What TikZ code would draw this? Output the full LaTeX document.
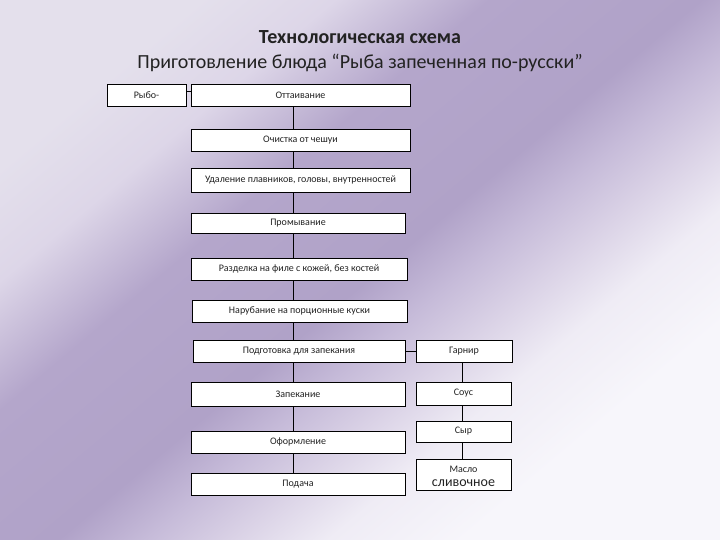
\documentclass[tikz,border=0pt]{standalone}
\usepackage{fontspec}
\setmainfont{Carlito}
\definecolor{bgA}{HTML}{E4E0EC}
\definecolor{bgB}{HTML}{DDD6E8}
\definecolor{bgC}{HTML}{B4A6CB}
\definecolor{bgD}{HTML}{B0A2C8}
\definecolor{bgE}{HTML}{C6BBD9}
\definecolor{bgF}{HTML}{DAD2E6}
\definecolor{bgG}{HTML}{EFECF5}
\definecolor{bgH}{HTML}{F7F6FB}
\definecolor{txt}{HTML}{222222}
\pgfdeclarehorizontalshading{bgshade}{100bp}{%
  color(0bp)=(bgA); color(25bp)=(bgA); color(32bp)=(bgB); color(40bp)=(bgC);
  color(51bp)=(bgD); color(55.5bp)=(bgE); color(60bp)=(bgF);
  color(65bp)=(bgG); color(72bp)=(bgH); color(100bp)=(bgH)}
\begin{document}
\begin{tikzpicture}[x=1pt,y=-1pt,
  box/.style={draw=black, fill=white, line width=0.8pt, inner sep=0pt,
    font=\fontsize{10}{11}\selectfont, text=txt, align=center},
  conn/.style={draw=black, line width=0.8pt}]
\shade[shading=bgshade, shading angle=-50] (0,0) rectangle (720,540);
\useasboundingbox (0,0) rectangle (720,540);
% titles
\node[font=\fontsize{20}{22}\selectfont\bfseries, text=txt] (t1) at (360,37) {Технологическая схема};
\node[font=\fontsize{20}{23}\selectfont, text=txt] (t2) at (360,63) {Приготовление блюда “Рыба запеченная по-русски”};
% left column
\node[box, minimum width=79pt, minimum height=22pt] (ryb) at (146.5,95) {Рыбо-};
\node[box, minimum width=219pt, minimum height=22pt] (ott) at (300.5,95) {Оттаивание};
\node[box, minimum width=219pt, minimum height=22pt] (och) at (300.5,140) {Очистка от чешуи};
\node[box, minimum width=219pt, minimum height=24pt] (ud) at (300.5,180) {Удаление плавников, головы, внутренностей};
\node[box, minimum width=214pt, minimum height=20pt] (prom) at (298,223) {Промывание};
\node[box, minimum width=216pt, minimum height=22pt] (razd) at (299,269) {Разделка на филе с кожей, без костей};
\node[box, minimum width=215pt, minimum height=22pt] (nar) at (299.5,311) {Нарубание на порционные куски};
\node[box, minimum width=212pt, minimum height=22pt] (podg) at (299,351) {Подготовка для запекания};
\node[box, minimum width=214pt, minimum height=24pt] (zap) at (298,394) {Запекание};
\node[box, minimum width=214pt, minimum height=22pt] (ofo) at (298,442) {Оформление};
\node[box, minimum width=214pt, minimum height=22pt] (pod) at (298,484) {Подача};
% right column
\node[box, minimum width=96pt, minimum height=22pt] (garn) at (464,351) {Гарнир};
\node[box, minimum width=95pt, minimum height=23pt] (sous) at (463.5,393.5) {Соус};
\node[box, minimum width=95pt, minimum height=21pt] (syr) at (463.5,431.5) {Сыр};
\node[box, minimum width=95pt, minimum height=31pt] (maslo) at (463.5,474.5) {};
\node[font=\fontsize{10}{11}\selectfont, text=txt, inner sep=0pt] (m1) at (463.5,469) {Масло};
\node[font=\fontsize{14}{15}\selectfont, text=txt, inner sep=0pt] (m2) at (463.5,483) {сливочное};
% spines
\coordinate (sp) at (293,0);
\coordinate (sr) at (462.5,0);
\coordinate (ry) at (0,91);
% connectors
\draw[conn] (ryb.east |- ry) -- (ott.west |- ry);
\draw[conn] (ott.south -| sp) -- (och.north -| sp);
\draw[conn] (och.south -| sp) -- (ud.north -| sp);
\draw[conn] (ud.south -| sp) -- (prom.north -| sp);
\draw[conn] (prom.south -| sp) -- (razd.north -| sp);
\draw[conn] (razd.south -| sp) -- (nar.north -| sp);
\draw[conn] (nar.south -| sp) -- (podg.north -| sp);
\draw[conn] (podg.south -| sp) -- (zap.north -| sp);
\draw[conn] (zap.south -| sp) -- (ofo.north -| sp);
\draw[conn] (ofo.south -| sp) -- (pod.north -| sp);
\draw[conn] (podg.east) -- (garn.west);
\draw[conn] (garn.south -| sr) -- (sous.north -| sr);
\draw[conn] (sous.south -| sr) -- (syr.north -| sr);
\draw[conn] (syr.south -| sr) -- (maslo.north -| sr);
\end{tikzpicture}
\end{document}
